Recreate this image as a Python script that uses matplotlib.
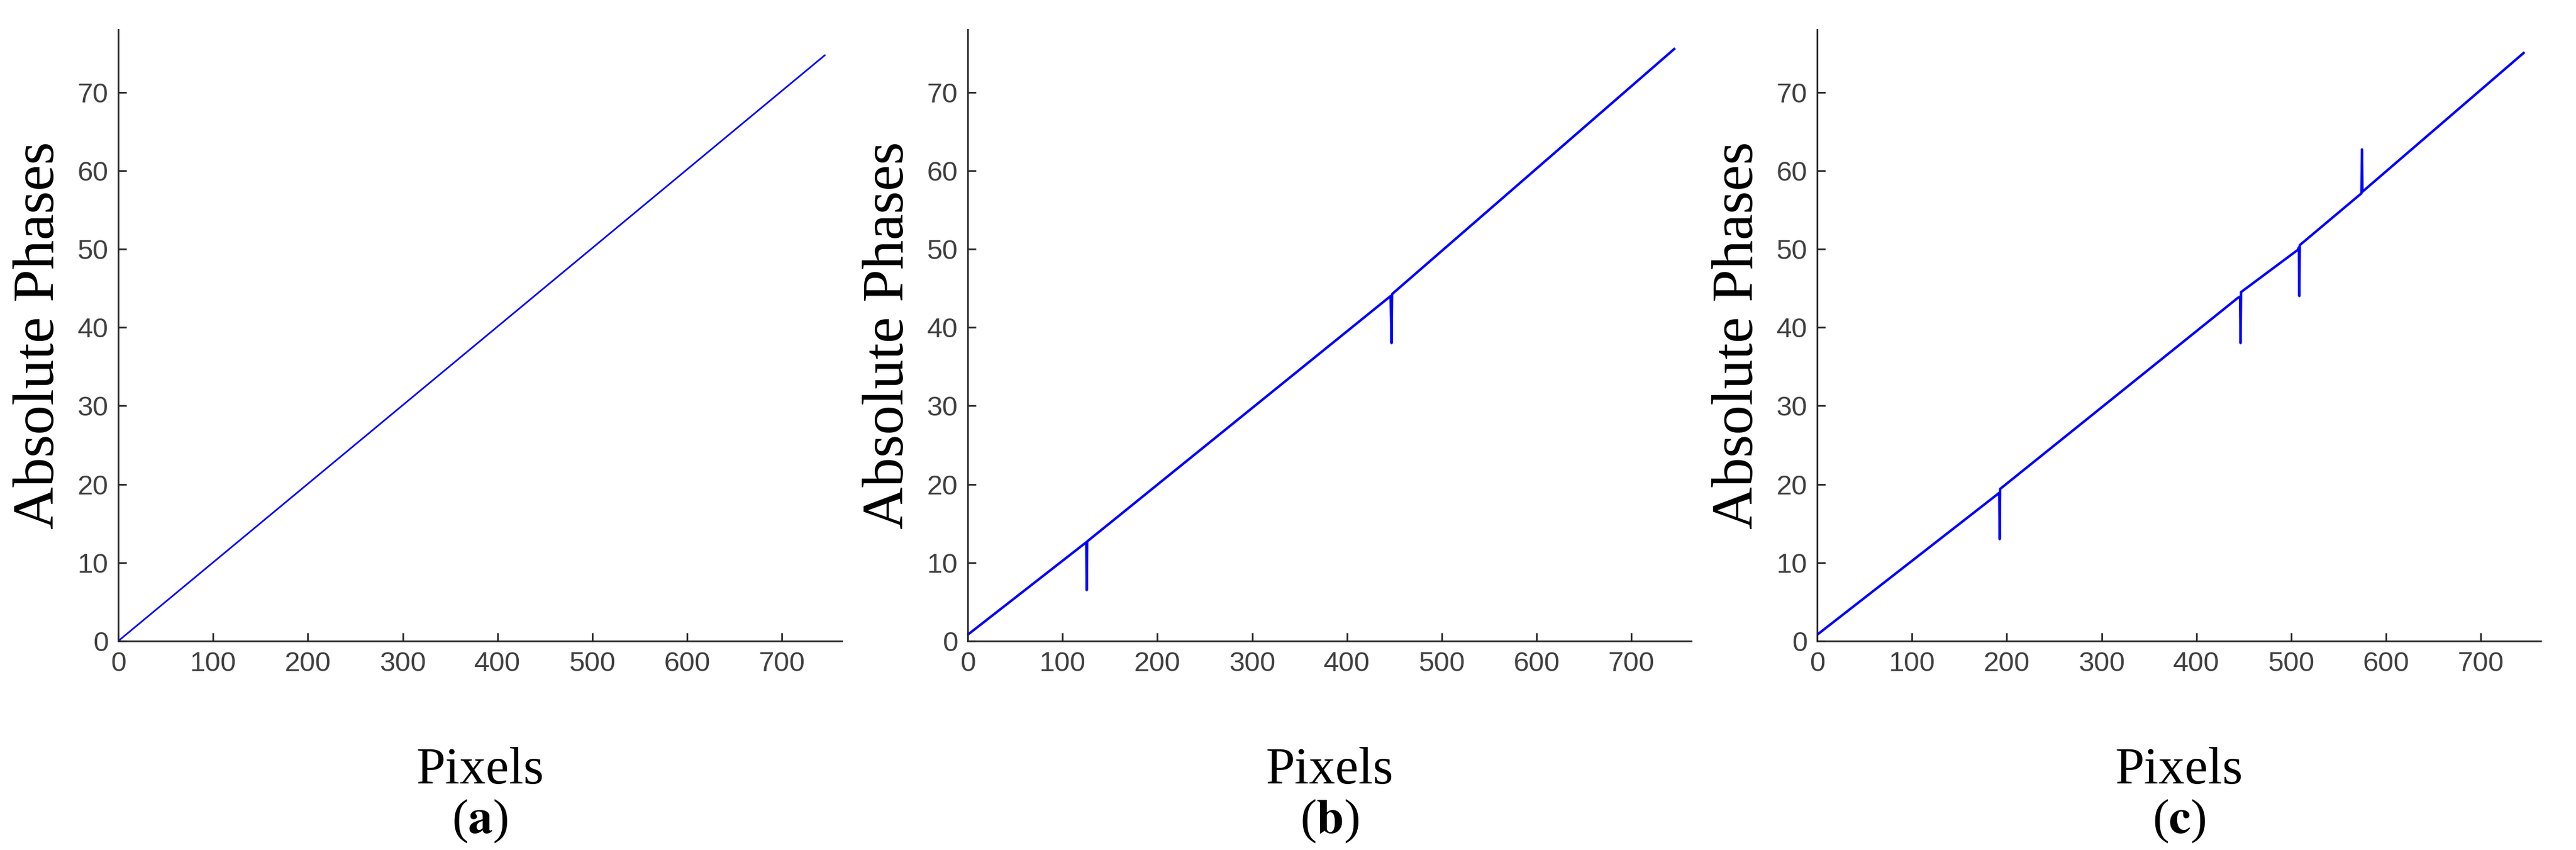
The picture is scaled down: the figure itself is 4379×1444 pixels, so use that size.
import matplotlib
matplotlib.use("Agg")
import matplotlib.pyplot as plt

# panel (a)
xa = [0, 745]
ya = [0, 74.7]
# panel (b)
xb = [0, 124, 125, 125.5, 126, 446, 447, 447.5, 448, 745]
yb = [0.8, 12.5, 12.6, 6.5, 12.7, 44.0, 38.0, 44.2, 44.3, 75.5]
# panel (c)
xc = [0, 191, 192, 192.5, 193, 444, 446, 446.5, 447, 507, 508, 508.5, 509, 573, 574, 574.5, 575, 745]
yc = [0.8, 18.8, 18.9, 13.0, 19.4, 43.8, 43.9, 38.0, 44.5, 49.9, 50.2, 44.0, 50.5, 57.0, 57.1, 62.7, 57.3, 75.0]
captions = ["a", "b", "c"]
xticks = [0, 100, 200, 300, 400, 500, 600, 700]
yticks = [0, 10, 20, 30, 40, 50, 60, 70]

fig = plt.figure(figsize=(43.79, 14.44), dpi=100)
W, H = 4379, 1444
lefts = [201, 1645, 3089]
data = [(xa, ya, 2.0), (xb, yb, 3.0), (xc, yc, 3.0)]
for i, (l, (x, y, lw)) in enumerate(zip(lefts, data)):
    ax = fig.add_axes([l / W, 1 - 1089 / H, 1230 / W, (1089 - 50) / H])
    ax.plot(x, y, color="#0000ff", lw=lw)
    ax.set_xlim(0, 763)
    ax.set_ylim(0, 78)
    ax.set_xticks(xticks)
    ax.set_yticks(yticks)
    for s in ["top", "right"]:
        ax.spines[s].set_visible(False)
    for s in ["left", "bottom"]:
        ax.spines[s].set_color("#262626")
        ax.spines[s].set_linewidth(2)
    ax.tick_params(direction="in", length=10, width=2, colors="#262626", labelsize=34,
                   labelcolor="#404040", pad=12)
    for t in ax.get_xticklabels() + ax.get_yticklabels():
        t.set_family("Liberation Sans")
    ax.set_ylabel("Absolute Phases", family="Liberation Serif", fontsize=72, labelpad=14)
    cx = (l + 615) / W
    fig.text(cx, 1 - 1310 / H, "Pixels", family="Liberation Serif", fontsize=64, ha="center", va="center")
    fig.text(cx, 1 - 1395 / H, r"($\mathbf{" + captions[i] + r"}$)", family="Liberation Serif",
             fontsize=60, ha="center", va="center", math_fontfamily="stix")

fig.savefig("out.png", dpi=100)
